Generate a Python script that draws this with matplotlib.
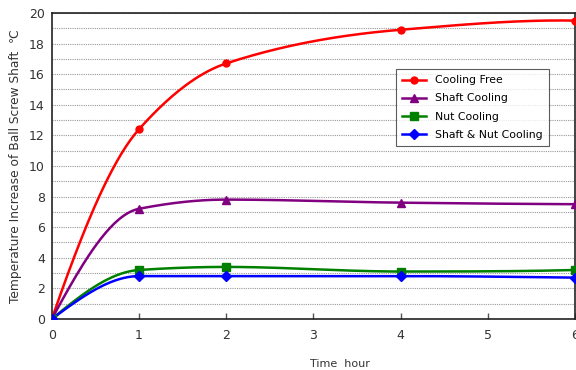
import numpy as np
import matplotlib
matplotlib.use('Agg')
import matplotlib.pyplot as plt

hours = [0, 1, 2, 4, 6]
cooling_free = [0, 12.4, 16.7, 18.9, 19.5]
shaft_cooling = [0, 7.2, 7.8, 7.6, 7.5]
nut_cooling = [0, 3.2, 3.4, 3.1, 3.2]
shaft_nut_cooling = [0, 2.8, 2.8, 2.8, 2.7]

labels = ['Cooling Free', 'Shaft Cooling', 'Nut Cooling', 'Shaft & Nut Cooling']
colors = ['#ff0000', '#800080', '#008000', '#0000ff']
markers = ['o', '^', 's', 'D']
msizes = [5, 6, 6, 5]


def smooth(x, y, n=40):
    # monotone cubic (fritsch-carlson) so the smoothed line does not overshoot
    x = np.asarray(x, float)
    y = np.asarray(y, float)
    h = np.diff(x)
    d = np.diff(y) / h
    m = np.zeros_like(y)
    for i in range(1, len(x) - 1):
        if d[i - 1] * d[i] > 0:
            w1 = 2 * h[i] + h[i - 1]
            w2 = h[i] + 2 * h[i - 1]
            m[i] = (w1 + w2) / (w1 / d[i - 1] + w2 / d[i])
    m[0] = ((2 * h[0] + h[1]) * d[0] - h[0] * d[1]) / (h[0] + h[1])
    m[-1] = ((2 * h[-1] + h[-2]) * d[-1] - h[-1] * d[-2]) / (h[-1] + h[-2])
    xs, ys = [], []
    t = np.linspace(0, 1, n)
    for i in range(len(h)):
        h00 = 2 * t**3 - 3 * t**2 + 1
        h10 = t**3 - 2 * t**2 + t
        h01 = -2 * t**3 + 3 * t**2
        h11 = t**3 - t**2
        xs.append(x[i] + t * h[i])
        ys.append(h00 * y[i] + h10 * h[i] * m[i] + h01 * y[i + 1] + h11 * h[i] * m[i + 1])
    return np.concatenate(xs), np.concatenate(ys)


fig = plt.figure(figsize=(5.76, 3.70), dpi=100)
ax = fig.add_axes([0.090, 0.138, 0.908, 0.827])

series = [cooling_free, shaft_cooling, nut_cooling, shaft_nut_cooling]
for vals, lab, c, m, ms in zip(series, labels, colors, markers, msizes):
    sx, sy = smooth(hours, vals)
    ax.plot(sx, sy, color=c, lw=1.8, zorder=3)
    ax.plot(hours, vals, ls='none', marker=m, ms=ms, color=c, zorder=4)
    ax.plot([], [], color=c, lw=1.8, marker=m, ms=ms, label=lab)

ax.set_xlim(0, 6)
ax.set_ylim(0, 20)
ax.set_xticks(range(0, 7))
ax.set_yticks(range(0, 21, 2))
ax.set_yticks(range(1, 20, 2), minor=True)
ax.tick_params(axis='x', direction='in', length=4, width=1, colors='#555555',
               labelcolor='#333333', labelsize=9, pad=7)
ax.tick_params(axis='y', length=0, labelcolor='#333333', labelsize=9, pad=5)
ax.tick_params(axis='y', which='minor', length=0)
ax.grid(axis='y', which='both', color='#999999', linestyle=(0, (1, 1)), lw=0.8)

for s in ax.spines.values():
    s.set_color('#222222')
    s.set_linewidth(1.2)

ax.set_ylabel('Temperature Increase of Ball Screw Shaft  \u2103', fontsize=8.8, color='#333333', labelpad=5)
ax.set_xlabel('Time  hour', fontsize=8, color='#333333', labelpad=6)
ax.xaxis.set_label_coords(0.55, -0.13)

leg = ax.legend(loc='upper left', bbox_to_anchor=(0.647, 0.835), fontsize=7.8,
                frameon=True, fancybox=False, edgecolor='#333333',
                handlelength=2.2, borderpad=0.6, labelspacing=0.75)
leg.get_frame().set_linewidth(0.8)

fig.savefig('out.png', dpi=100)
